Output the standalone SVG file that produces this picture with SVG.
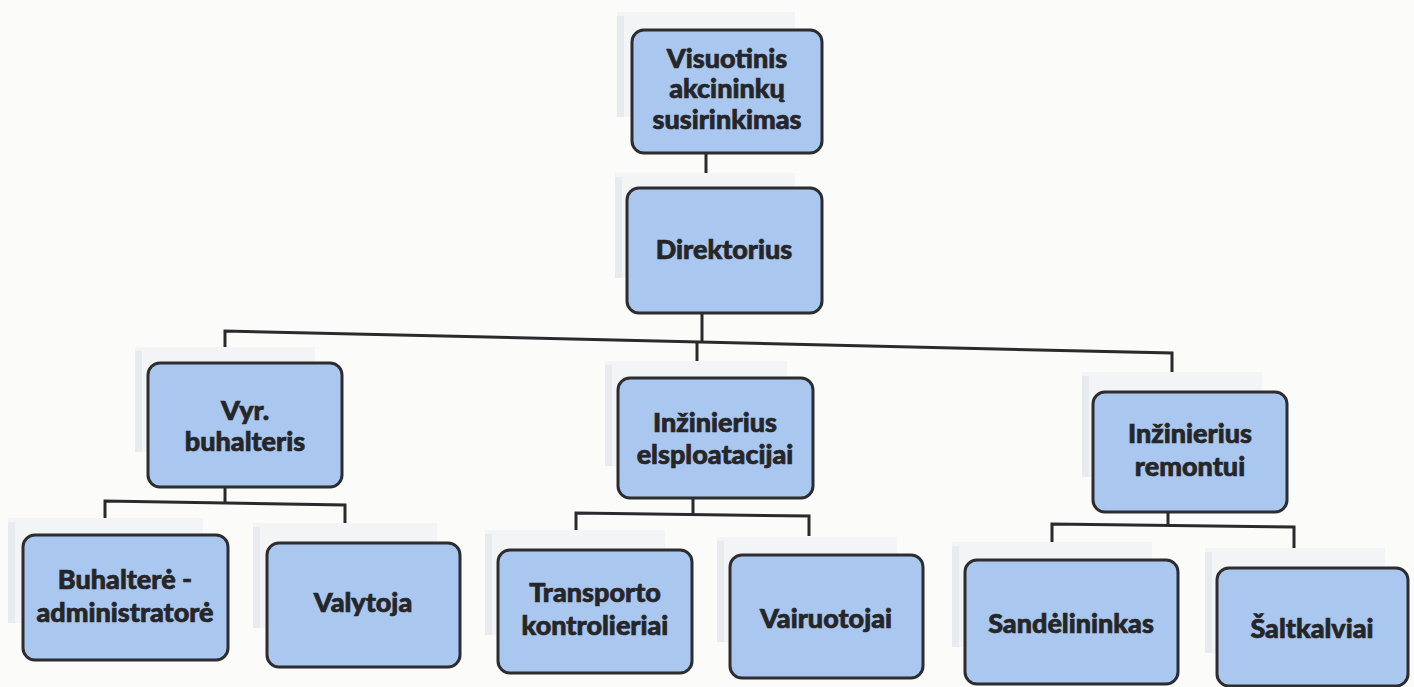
<svg xmlns="http://www.w3.org/2000/svg" width="1414" height="687" viewBox="0 0 1414 687">
<style>
.bg{fill:#fbfbfa}
.sh{fill:#f3f4f5}
.shl{fill:#e9eaed}
.box{fill:#a9c7ef;stroke:#2d2d2f;stroke-width:3}
.t{font-family:Lato,"Open Sans",sans-serif;font-weight:900;font-size:27px;fill:#262628;stroke:#262628;stroke-width:0.7;text-anchor:middle}
.c{fill:none;stroke:#2a2a2c;stroke-width:3}
</style>
<rect class="bg" x="0" y="0" width="1414" height="687"/>
<g id="connectors">
<polyline class="c" points="706,153 706,173"/>
<polyline class="c" points="702,313 702,342"/>
<polyline class="c" points="225,347 225,331 1172,353 1172,372"/>
<polyline class="c" points="697,342 697,361"/>
<polyline class="c" points="225,487 225,502"/>
<polyline class="c" points="105,518 105,501 345,505 345,523"/>
<polyline class="c" points="693,498 693,514"/>
<polyline class="c" points="576,530 576,513 809,516 809,536"/>
<polyline class="c" points="1168,512 1168,525"/>
<polyline class="c" points="1052,542 1052,524 1294,527 1294,548"/>
</g>
<g id="n1">
<rect class="sh" x="617" y="12" width="178" height="105"/><rect class="shl" x="617" y="16" width="7" height="101"/>
<rect class="box" x="632" y="30" width="190" height="123" rx="12"/>
<text class="t" x="727" y="68">Visuotinis</text>
<text class="t" x="727" y="98">akcininkų</text>
<text class="t" x="727" y="129">susirinkimas</text>
</g>
<g id="n2">
<rect class="sh" x="615" y="173" width="180" height="105"/><rect class="shl" x="615" y="177" width="7" height="101"/>
<rect class="box" x="627" y="188" width="195" height="125" rx="12"/>
<text class="t" x="724" y="259">Direktorius</text>
</g>
<g id="n3">
<rect class="sh" x="135" y="347" width="180" height="105"/><rect class="shl" x="135" y="351" width="7" height="101"/>
<rect class="box" x="148" y="363" width="194" height="124" rx="12"/>
<text class="t" x="245" y="420">Vyr.</text>
<text class="t" x="245" y="451">buhalteris</text>
</g>
<g id="n4">
<rect class="sh" x="8" y="518" width="195" height="105"/><rect class="shl" x="8" y="522" width="7" height="101"/>
<rect class="box" x="23" y="535" width="205" height="125" rx="12"/>
<text class="t" x="125" y="589">Buhalterė -</text>
<text class="t" x="125" y="622">administratorė</text>
</g>
<g id="n5">
<rect class="sh" x="253" y="523" width="184" height="105"/><rect class="shl" x="253" y="527" width="7" height="101"/>
<rect class="box" x="267" y="543" width="193" height="124" rx="12"/>
<text class="t" x="363" y="612">Valytoja</text>
</g>
<g id="n6">
<rect class="sh" x="605" y="361" width="182" height="105"/><rect class="shl" x="605" y="365" width="7" height="101"/>
<rect class="box" x="618" y="378" width="195" height="120" rx="12"/>
<text class="t" x="715" y="432">Inžinierius</text>
<text class="t" x="715" y="464">elsploatacijai</text>
</g>
<g id="n7">
<rect class="sh" x="485" y="530" width="180" height="105"/><rect class="shl" x="485" y="534" width="7" height="101"/>
<rect class="box" x="498" y="550" width="194" height="123" rx="12"/>
<text class="t" x="595" y="602">Transporto</text>
<text class="t" x="595" y="635">kontrolieriai</text>
</g>
<g id="n8">
<rect class="sh" x="717" y="537" width="180" height="105"/><rect class="shl" x="717" y="541" width="7" height="101"/>
<rect class="box" x="730" y="555" width="193" height="123" rx="12"/>
<text class="t" x="826" y="628">Vairuotojai</text>
</g>
<g id="n9">
<rect class="sh" x="1082" y="372" width="180" height="105"/><rect class="shl" x="1082" y="376" width="7" height="101"/>
<rect class="box" x="1093" y="392" width="194" height="120" rx="12"/>
<text class="t" x="1190" y="443">Inžinierius</text>
<text class="t" x="1190" y="476">remontui</text>
</g>
<g id="n10">
<rect class="sh" x="952" y="542" width="200" height="105"/><rect class="shl" x="952" y="546" width="7" height="101"/>
<rect class="box" x="965" y="560" width="213" height="124" rx="12"/>
<text class="t" x="1071" y="633">Sandėlininkas</text>
</g>
<g id="n11">
<rect class="sh" x="1205" y="548" width="180" height="105"/><rect class="shl" x="1205" y="552" width="7" height="101"/>
<rect class="box" x="1217" y="568" width="191" height="118" rx="12"/>
<text class="t" x="1312" y="638">Šaltkalviai</text>
</g>
</svg>
